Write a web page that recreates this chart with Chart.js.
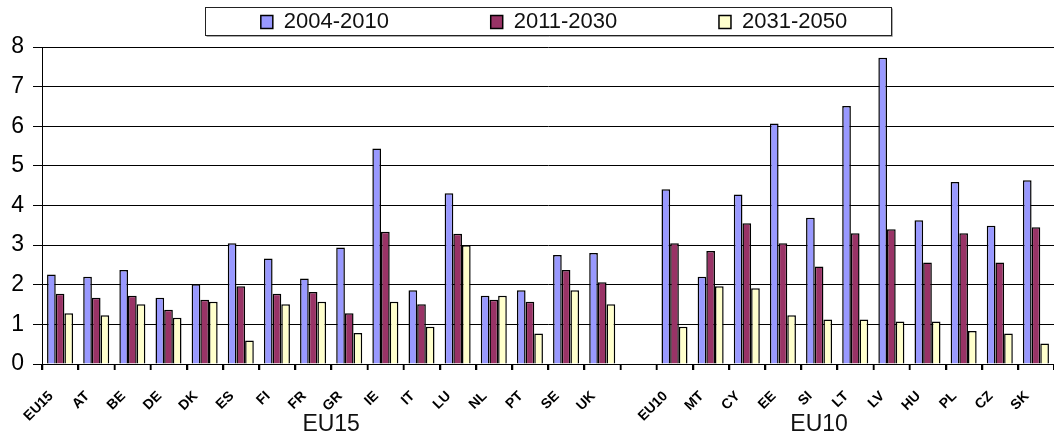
<!DOCTYPE html>
<html><head><meta charset="utf-8">
<script src="https://cdn.jsdelivr.net/npm/chart.js@4.4.0/dist/chart.umd.min.js"></script>
<style>html,body{margin:0;padding:0;background:#fff;overflow:hidden}#wrap{width:1054px;height:448px;position:relative}</style>
</head><body><div id="wrap"><canvas id="c" width="1054" height="448"></canvas></div>
<script>
const categories = ['EU15','AT','BE','DE','DK','ES','FI','FR','GR','IE','IT','LU','NL','PT','SE','UK','','EU10','MT','CY','EE','SI','LT','LV','HU','PL','CZ','SK'];
const seriesNames = ['2004-2010','2011-2030','2031-2050'];
const values2004_2010 = [2.26,2.20,2.37,1.67,2.01,3.05,2.66,2.16,2.94,5.44,1.86,4.31,1.72,1.86,2.75,2.80,null,4.41,2.20,4.28,6.07,3.69,6.51,7.73,3.63,4.59,3.49,4.64];
const values2011_2030 = [1.77,1.67,1.72,1.37,1.62,1.96,1.77,1.82,1.28,3.34,1.51,3.29,1.62,1.57,2.37,2.06,null,3.05,2.85,3.55,3.05,2.46,3.30,3.40,2.56,3.30,2.56,3.45];
const values2031_2050 = [1.28,1.23,1.51,1.17,1.57,0.59,1.51,1.57,0.78,1.57,0.94,3.00,1.72,0.77,1.86,1.51,null,0.94,1.96,1.91,1.23,1.12,1.12,1.07,1.07,0.83,0.77,0.52];
const groupNames = ['EU15','EU10'];
const yTicks = [0,1,2,3,4,5,6,7,8];

const FONT = "'Liberation Sans', Arial, sans-serif";
Chart.defaults.font.family = FONT;
Chart.defaults.color = '#000';

const LEGEND_SHIFT = 6;

const legendPatch = {
  id: 'legendPatch',
  beforeLayout(chart) {
    const lg = chart.legend;
    if (lg && !lg._patched) {
      const origFit = lg.fit.bind(lg);
      lg.fit = function () { origFit(); this.height += 4; };
      const origDraw = lg.draw.bind(lg);
      lg.draw = function () {
        const c = this.ctx;
        c.save(); c.translate(LEGEND_SHIFT, 0); origDraw(); c.restore();
      };
      lg._patched = true;
    }
  }
};

const legendBox = {
  id: 'legendBox',
  afterDraw(chart) {
    const lg = chart.legend;
    if (!lg || !lg.legendHitBoxes || lg.legendHitBoxes.length < 3) return;
    const hb = lg.legendHitBoxes;
    const x0 = Math.round(hb[0].left + LEGEND_SHIFT - 56) + 0.5;
    const x1 = Math.round(hb[2].left + LEGEND_SHIFT + hb[2].width + 44) + 0.5;
    const yc = hb[0].top + hb[0].height / 2;
    const y0 = Math.round(yc - 15) + 0.5, y1 = Math.round(yc + 13) + 0.5;
    const c = chart.ctx;
    c.save();
    c.strokeStyle = '#aaa'; c.lineWidth = 1;
    c.beginPath(); c.moveTo(x0 + 1, y1 + 1); c.lineTo(x1 + 1, y1 + 1); c.lineTo(x1 + 1, y0 + 1); c.stroke();
    c.strokeStyle = '#222';
    c.strokeRect(x0, y0, x1 - x0, y1 - y0);
    c.restore();
  }
};

// category-boundary tick marks below the x axis, placed with the x scale
const xTickMarks = {
  id: 'xTickMarks',
  afterDraw(chart) {
    const xs = chart.scales.x;
    const c = chart.ctx;
    const y = Math.round(xs.top);
    c.save();
    c.strokeStyle = '#000'; c.lineWidth = 1.5;
    c.beginPath();
    for (let i = 0; i <= categories.length; i++) {
      const x = Math.round(xs.getPixelForValue(i - 0.5)) + 0.5;
      c.moveTo(x, y); c.lineTo(x, y + 6);
    }
    c.stroke();
    c.restore();
  }
};

const groupLabels = {
  id: 'groupLabels',
  afterDraw(chart) {
    const xs = chart.scales.x;
    const anchors = [7.5, 21];
    const c = chart.ctx;
    c.save();
    c.font = '23px ' + FONT;
    c.fillStyle = '#111';
    c.textAlign = 'center';
    c.textBaseline = 'middle';
    groupNames.forEach((g, i) => c.fillText(g, xs.getPixelForValue(anchors[i]), 425));
    c.restore();
  }
};

const mk = (i, data, bg) => ({ label: seriesNames[i], data, backgroundColor: bg, borderColor: '#000', borderWidth: 1.5 });

new Chart(document.getElementById('c'), {
  type: 'bar',
  data: {
    labels: categories,
    datasets: [mk(0, values2004_2010, '#9999FF'), mk(1, values2011_2030, '#993366'), mk(2, values2031_2050, '#FFFFCC')]
  },
  options: {
    responsive: false, animation: false, devicePixelRatio: 1,
    layout: { padding: { top: 1, left: 0, right: 0, bottom: 0 } },
    datasets: { bar: { categoryPercentage: 0.72, barPercentage: 1.0 } },
    plugins: {
      tooltip: { enabled: false },
      legend: {
        position: 'top', fullSize: false,
        labels: {
          boxWidth: 12, boxHeight: 13, padding: 10, color: '#111', font: { size: 22 },
          generateLabels(chart) {
            const items = Chart.defaults.plugins.legend.labels.generateLabels(chart);
            items.forEach((it, i) => { if (i < items.length - 1) it.text = it.text + '\u00A0'.repeat(15); });
            return items;
          }
        }
      }
    },
    scales: {
      x: {
        grid: { display: true, drawOnChartArea: false, drawTicks: true, tickLength: 6, lineWidth: 1.5, tickColor: '#000', color: '#000', offset: true },
        border: { display: true, color: '#000' },
        ticks: { autoSkip: false, maxRotation: 45, minRotation: 45, font: { size: 14, weight: 'bold' }, padding: 18, labelOffset: -9, color: '#000' },
        afterFit(s) { s.height = 84; s.paddingLeft = 0; s.paddingRight = 0; }
      },
      y: {
        min: 0, max: 8,
        afterBuildTicks(s) { s.ticks = yTicks.map(v => ({ value: v })); },
        ticks: { font: { size: 23 }, padding: 9, color: '#000' },
        grid: { color: '#000', tickLength: 9 },
        border: { color: '#000' },
        afterFit(s) { s.width = 42; }
      }
    }
  },
  plugins: [legendPatch, legendBox, xTickMarks, groupLabels]
});
</script></body></html>
